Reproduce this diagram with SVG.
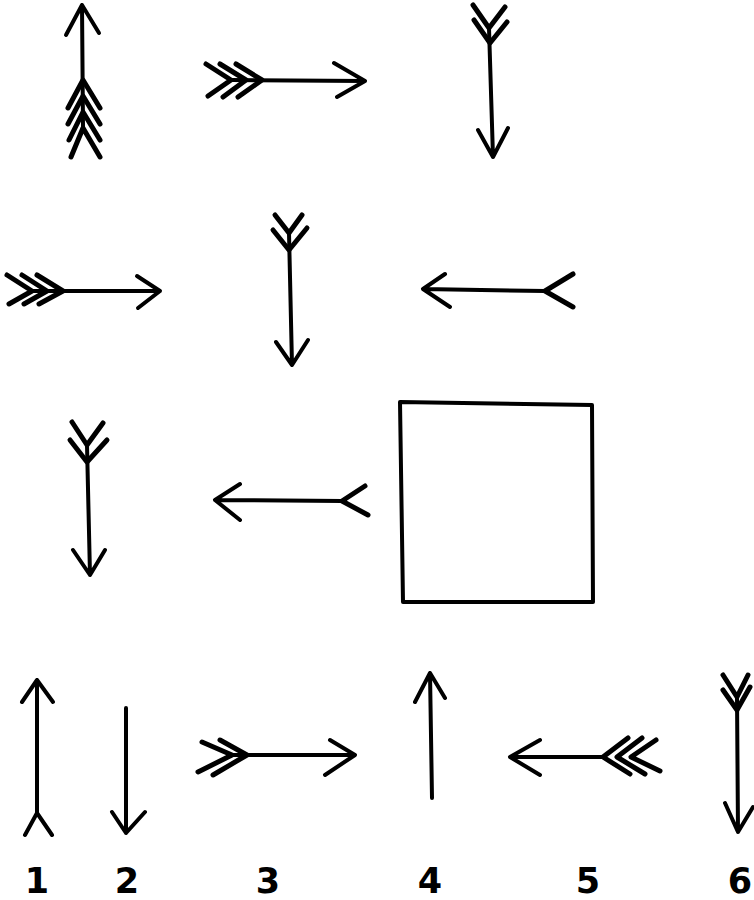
<svg xmlns="http://www.w3.org/2000/svg" width="754" height="900" viewBox="0 0 754 900">
<style>
.s{fill:none;stroke:#000;stroke-width:4;stroke-linecap:round;stroke-linejoin:round}
.f{fill:none;stroke:#000;stroke-width:5;stroke-linecap:round;stroke-linejoin:round}
.lbl{font-family:"DejaVu Sans","Liberation Sans",sans-serif;font-weight:bold;font-size:35px;fill:#000;text-anchor:middle}
</style>
<rect width="754" height="900" fill="#fff"/>
<g id="arrow-1">
<path class="s" d="M82,5 L83,127 M66,35 L82,5 L99,33"/>
<path class="f" d="M68,108 L83,80 L100,108 M68,124 L83,96 L100,124 M69,140 L83,112 L100,140 M71,157 L83,128 L100,157"/>
</g>
<g id="arrow-2">
<path class="s" d="M232,80 L365,81 M334,63 L365,81 L337,97"/>
<path class="f" d="M206,64 L231,80 L208,96 M220,64 L246,80 L223,97 M236,64 L262,80 L238,97"/>
</g>
<g id="arrow-3">
<path class="s" d="M489,28 L493,157 M478,130 L493,157 L508,128"/>
<path class="f" d="M473,5 L489,28 L505,7 M474,20 L490,43 L507,22"/>
</g>
<g id="arrow-4">
<path class="s" d="M33,291 L160,291 M137,276 L160,291 L138,308"/>
<path class="f" d="M7,275 L32,291 L9,304 M22,275 L47,291 L24,304 M37,275 L63,291 L39,304"/>
</g>
<g id="arrow-5">
<path class="s" d="M289,233 L292,365 M276,342 L292,365 L308,340"/>
<path class="f" d="M275,215 L289,233 L302,215 M273,230 L289,250 L307,228"/>
</g>
<g id="arrow-6">
<path class="s" d="M423,289 L545,291 M445,274 L423,289 L450,307"/>
<path class="f" d="M573,274 L545,291 L573,307"/>
</g>
<g id="arrow-7">
<path class="s" d="M87,445 L90,575 M73,550 L90,575 L105,550"/>
<path class="f" d="M72,422 L87,445 L103,423 M70,440 L87,462 L107,440"/>
</g>
<g id="arrow-8">
<path class="s" d="M215,500 L342,501 M240,484 L215,500 L240,520"/>
<path class="f" d="M365,486 L342,501 L368,515"/>
</g>
<g id="square">
<path class="s" d="M400,402 L592,405 L593,602 L403,602 Z"/>
</g>
<g id="option-1">
<path class="s" d="M37,680 L37,813 M22,702 L37,680 L53,702 M25,835 L37,813 L52,835"/>
<text class="lbl" x="37" y="893">1</text>
</g>
<g id="option-2">
<path class="s" d="M126,708 L126,833 M112,812 L126,833 L145,812"/>
<text class="lbl" x="127" y="893">2</text>
</g>
<g id="option-3">
<path class="s" d="M232,755 L355,755 M330,740 L355,755 L325,775"/>
<path class="f" d="M202,742 L232,755 L198,772 M220,740 L247,755 L213,775"/>
<text class="lbl" x="268" y="893">3</text>
</g>
<g id="option-4">
<path class="s" d="M432,798 L430,673 M415,702 L430,673 L445,698"/>
<text class="lbl" x="430" y="893">4</text>
</g>
<g id="option-5">
<path class="s" d="M510,757 L603,757 M540,740 L510,757 L540,775"/>
<path class="f" d="M628,738 L603,757 L630,774 M642,738 L617,757 L645,774 M656,740 L631,757 L660,771"/>
<text class="lbl" x="588" y="893">5</text>
</g>
<g id="option-6">
<path class="s" d="M737,697 L738,832 M725,803 L738,832 L753,807"/>
<path class="f" d="M723,675 L737,697 L748,675 M723,690 L737,710 L750,687"/>
<text class="lbl" x="740" y="893">6</text>
</g>
</svg>
